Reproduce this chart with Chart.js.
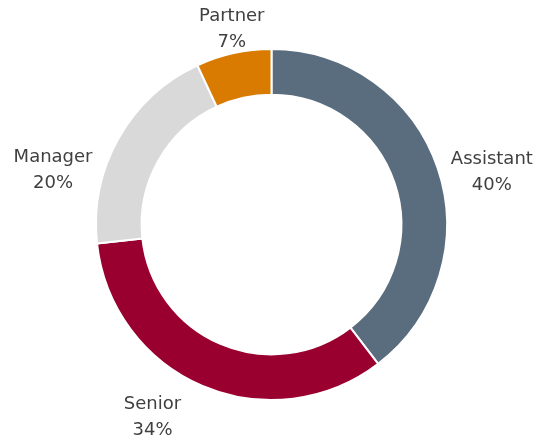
<!DOCTYPE html>
<html>
<head>
<meta charset="utf-8">
<script src="https://cdn.jsdelivr.net/npm/chart.js@4/dist/chart.umd.min.js"></script>
<style>
  html, body { margin: 0; padding: 0; background: #fff; }
  #wrap { width: 555px; height: 443px; position: relative; }
</style>
</head>
<body>
<div id="wrap"><canvas id="donut_chart"></canvas></div>
<script>
// chart data
var categories = ["Assistant", "Senior", "Manager", "Partner"];
var shares = [40, 34, 20, 7];
var colours = ["#5a6d7f", "#990030", "#d9d9d9", "#d97b00"];

// label placement tweaks: angle (degrees) and extra distance (px) per slice
var labelNudge = [5.5, 8.5, -15.5, 1];
var labelPush = [0, 9, 0, -13];

var outsideLabels = {
    id: 'outsideLabels',
    afterDatasetsDraw: function (chart) {
        var ctx = chart.ctx;
        var meta = chart.getDatasetMeta(0);
        var lineH = 26;
        ctx.save();
        ctx.font = '18px "DejaVu Sans"';
        ctx.fillStyle = '#404040';
        ctx.textAlign = 'center';
        ctx.textBaseline = 'middle';
        meta.data.forEach(function (arc, i) {
            var p = arc.getProps(['x', 'y', 'startAngle', 'endAngle', 'outerRadius'], true);
            var mid = (p.startAngle + p.endAngle) / 2 + labelNudge[i] * Math.PI / 180;
            var lines = [categories[i], shares[i] + '%'];
            var w = Math.max(ctx.measureText(lines[0]).width, ctx.measureText(lines[1]).width);
            var h = lines.length * lineH;
            var dx = Math.cos(mid), dy = Math.sin(mid);
            var dist = p.outerRadius + 5 + labelPush[i] + Math.abs(dx) * w / 2 + Math.abs(dy) * h / 2;
            var cx = p.x + dx * dist;
            var cy = p.y + dy * dist;
            lines.forEach(function (t, j) {
                ctx.fillText(t, cx, cy - h / 2 + lineH / 2 + j * lineH);
            });
        });
        ctx.restore();
    }
};

var ctx = document.getElementById("donut_chart");

var myDonut = new Chart(ctx, {
    type: 'doughnut',
    data: {
        labels: categories,
        datasets: [
            {
                data: shares,
                backgroundColor: colours,
                borderColor: "#ffffff",
                borderWidth: 2,
                hoverOffset: 0
            }
        ]
    },
    options: {
        responsive: true,
        maintainAspectRatio: false,
        animation: false,
        cutout: '74%',
        layout: {
            padding: { top: 48, bottom: 42, left: 95, right: 107 }
        },
        plugins: {
            legend: { display: false },
            tooltip: { enabled: false }
        }
    },
    plugins: [outsideLabels]
});
</script>
</body>
</html>
